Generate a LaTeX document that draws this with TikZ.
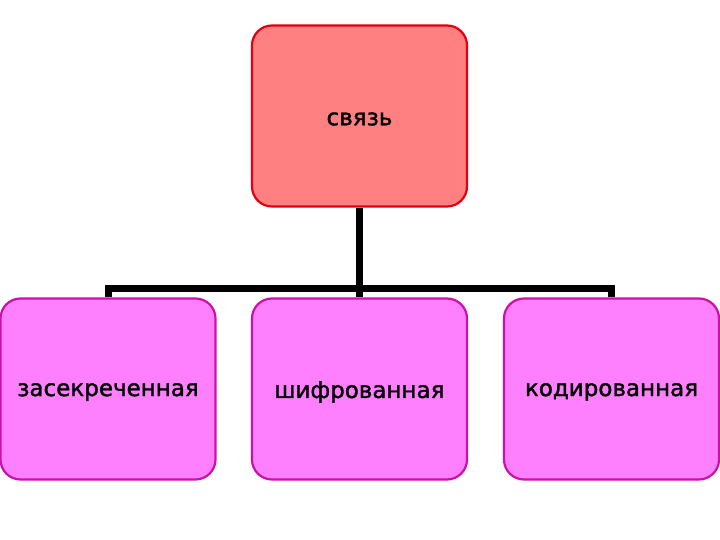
\documentclass[tikz,border=0pt]{standalone}
\usepackage{fontspec}
\setmainfont{DejaVu Sans}[FakeBold=1.5]
\definecolor{topfill}{HTML}{FF8080}
\definecolor{topdraw}{HTML}{E00010}
\definecolor{botfill}{HTML}{FF80FF}
\definecolor{botdraw}{HTML}{CC10A8}
\tikzset{
  box/.style={rounded corners=20pt, line width=2.2pt, minimum width=215pt, minimum height=181pt, inner sep=0pt},
  topbox/.style={box, fill=topfill, draw=topdraw},
  botbox/.style={box, fill=botfill, draw=botdraw},
  lbl/.style={inner sep=0pt, font=\fontsize{23}{27}\selectfont},
  conn/.style={line width=7pt, draw=black}
}
\begin{document}
\begin{tikzpicture}[x=1pt,y=1pt]
\useasboundingbox (0,0) rectangle (720,540);
\node[topbox] (top) at (359.5,424) {};
\node[lbl] (tl) at ([yshift=-3pt]top.center) {связь};
\node[botbox] (b1) at (108,151) {};
\node[lbl] (l1) at ([yshift=-3pt]b1.center) {засекреченная};
\node[botbox] (b2) at (359.5,151) {};
\node[lbl] (l2) at ([yshift=-3pt]b2.center) {шифрованная};
\node[botbox] (b3) at (611.5,151) {};
\node[lbl] (l3) at ([yshift=-3pt]b3.center) {кодированная};
\coordinate (hj) at (359,251);
\draw[conn] (top.south -| hj) -- (b2.north -| hj);
\draw[conn,line cap=rect] (b1.north |- hj) -- (b3.north |- hj);
\draw[conn] (b1.north |- hj) -- (b1.north);
\draw[conn] (b3.north |- hj) -- (b3.north);
\end{tikzpicture}
\end{document}
